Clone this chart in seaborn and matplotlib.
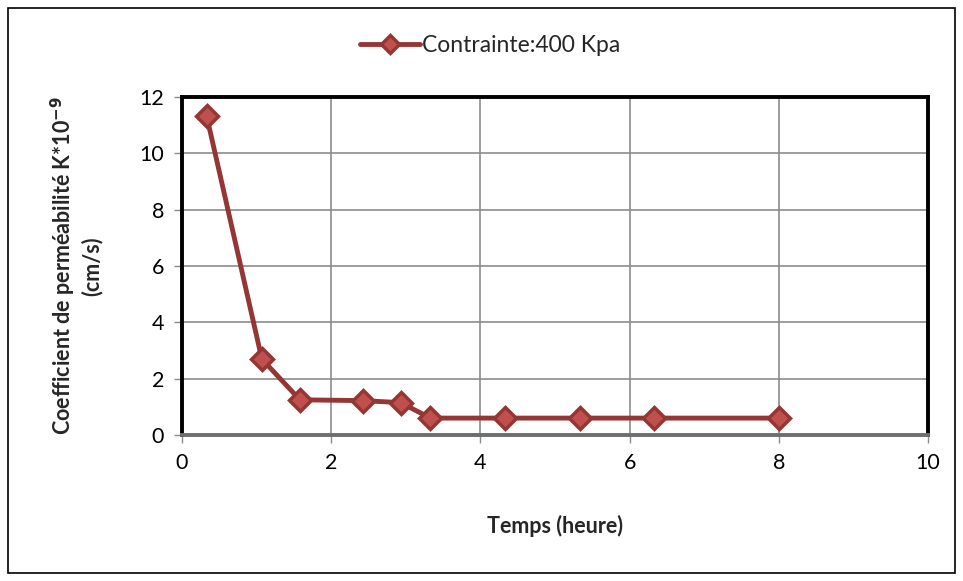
import matplotlib
matplotlib.use("Agg")
import matplotlib.pyplot as plt
import seaborn as sns
import pandas as pd
from matplotlib.patches import Rectangle

temps = [0.33, 1.07, 1.58, 2.42, 2.93, 3.33, 4.33, 5.33, 6.33, 8.0]
permeabilite = [11.33, 2.7, 1.25, 1.22, 1.15, 0.6, 0.6, 0.6, 0.6, 0.6]
serie = "Contrainte:400 Kpa"
x_ticks = [0, 2, 4, 6, 8, 10]
y_ticks = [0, 2, 4, 6, 8, 10, 12]

sns.set_theme(style="white")
plt.rcParams['font.family'] = ['Lato', 'DejaVu Sans']
plt.rcParams['mathtext.default'] = 'bf'

df = pd.DataFrame({"Temps": temps, "K": permeabilite, "serie": serie})

fig = plt.figure(figsize=(9.63, 5.81), dpi=100)
ax = fig.add_axes([182/963, 1-435/581, (928-182)/963, (435-97)/581])

sns.lineplot(data=df, x="Temps", y="K", hue="serie", palette=["#943634"],
             marker="D", markersize=11.5, markerfacecolor="#C0504D",
             markeredgecolor="#943634", markeredgewidth=2.5,
             linewidth=3.5, ax=ax)

ax.set_xlim(0, 10)
ax.set_ylim(0, 12)
ax.set_xticks(x_ticks)
ax.set_yticks(y_ticks)
ax.grid(True, color="#8c8c8c", linewidth=1.2)
ax.tick_params(axis="both", which="both", labelsize=15.5, length=6, width=1,
               direction="out", pad=7, labelcolor="black", color="#8c8c8c")
ax.xaxis.set_ticks_position("bottom")
ax.yaxis.set_ticks_position("left")
for side in ["top", "left", "right"]:
    ax.spines[side].set_color("black")
    ax.spines[side].set_linewidth(2.8)
ax.spines["bottom"].set_color("#6e6e6e")
ax.spines["bottom"].set_linewidth(2.8)

ax.set_xlabel("Temps (heure)", fontsize=15.5, fontweight="bold", labelpad=30)
ax.set_ylabel("Coefficient de perméabilité K*10$^{-9}$\n(cm/s)", fontsize=15.5,
              fontweight="bold", labelpad=26)

leg = ax.legend(loc="center", bbox_to_anchor=(490/963, 1-46/581),
                bbox_transform=fig.transFigure, frameon=False, fontsize=16.5,
                handlelength=2.6, handletextpad=0.1, markerscale=0.8)

fig.patches.append(Rectangle((8/963, 8/581), 947/963, 565/581,
                             transform=fig.transFigure, fill=False,
                             edgecolor="black", linewidth=1.2))

fig.savefig("out.png", dpi=100)
